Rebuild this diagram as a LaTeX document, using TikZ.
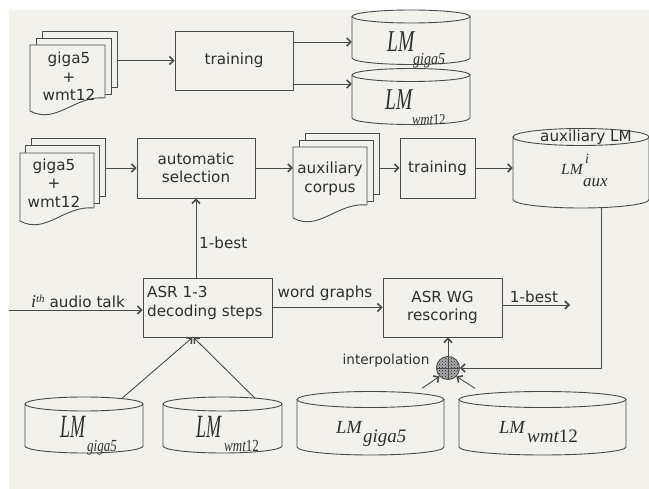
\documentclass[tikz,border=0pt]{standalone}
\usepackage{fontspec}
\usepackage{graphicx}
\setmainfont{DejaVu Sans}
\newfontfamily\tms{Liberation Serif}
\usetikzlibrary{arrows.meta,calc,patterns}
\definecolor{bg}{HTML}{F2F1EC}
\definecolor{lc}{HTML}{4A4A4A}
\definecolor{tc}{HTML}{2E2E2E}
\newcommand\labfont{\fontsize{15.2}{18.5}\selectfont}
\newcommand\smallfont{\fontsize{13.6}{16}\selectfont}
\newcommand\serf[1]{\tms\itshape\fontsize{#1}{#1}\selectfont}
% cylinder: name, cx, top y, bottom-arc centre y, rx, ry
\newcommand\mycyl[6]{%
  \draw[ln] (#2-#5,#3) -- (#2-#5,#4) arc[start angle=180,end angle=360,x radius=#5pt,y radius=#6pt] -- (#2+#5,#3);
  \draw[ln] (#2,#3) ellipse[x radius=#5pt,y radius=#6pt];
  \node[inner sep=0,minimum width={2*#5pt},minimum height={(#4-#3+2*#6)*1pt}] (#1) at (#2,{(#3+#4)/2}) {};
}
% document stack: name, x0, y0, w, h, dx, dy
\newcommand\docstack[7]{%
  \draw[ln,fill=bg] (#2+2*#6,#3-2*#7) rectangle ++(#4,#5+3);
  \node[inner sep=0,minimum width=#4pt,minimum height={(#5+3)*1pt},anchor=north west] (#1b) at (#2+2*#6,#3-2*#7) {};
  \draw[ln,fill=bg] (#2+#6,#3-#7) rectangle ++(#4,#5+3);
  \draw[ln,fill=bg] (#2,#3) -- (#2+#4,#3) -- (#2+#4,#3+#5) .. controls (#2+0.6*#4,#3+#5-3) and (#2+0.35*#4,#3+#5+27) .. (#2,#3+#5+13) -- cycle;
  \node[inner sep=0,minimum width=#4pt,minimum height=#5pt,anchor=north west] (#1f) at (#2,#3) {};
}
\begin{document}
\begin{tikzpicture}[x=1pt,y=-1pt,
  ln/.style={draw=lc,line width=0.9pt},
  arr/.style={ln,-{Straight Barb[length=4pt,width=8pt,line width=1.6pt]}},
  procbox/.style={ln,fill=bg,inner sep=0,font=\labfont,text=tc,align=center},
  lbl/.style={font=\labfont,text=tc,inner sep=0},
  lmtext/.style={text=tc,inner sep=0,anchor=base west}]
\useasboundingbox (0,0) rectangle (649,489);
\fill[white] (0,0) rectangle (649,489);
\fill[bg] (9,10) rectangle (649,489);

% ---- row 1
\docstack{sa}{30}{45}{75}{53}{6}{7}
\node[lbl,align=center] (satxt) at (69,76.5) {giga5\\+\\wmt12};
\node[procbox,minimum width=118pt,minimum height=59pt] (train1) at (234,60.5) {training};
\mycyl{cylA}{411}{16.5}{58}{59}{6.5}
\mycyl{cylB}{411}{75}{118}{59}{6.5}
\node[lmtext] (lmA) at (387,52) {\scalebox{1}[1.55]{\serf{19.5}LM}};
\node[lmtext] (lmAs) at (413,65) {\scalebox{1}[1.2]{\serf{14}giga5}};
\node[lmtext] (lmB) at (385,110) {\scalebox{1}[1.55]{\serf{19.5}LM}};
\node[lmtext] (lmBs) at (412,125) {\scalebox{1}[1.2]{\serf{12.5}wmt\upshape12}};
\coordinate (yA) at (0,42);
\coordinate (yB) at (0,84);
\draw[arr] (sab.east |- train1.west) -- (train1.west);
\draw[arr] (train1.east |- yA) -- (cylA.west |- yA);
\draw[arr] (train1.east |- yB) -- (cylB.west |- yB);

% ---- row 2
\docstack{sb}{20}{153}{74}{55}{5.5}{7.5}
\node[lbl,align=center] (sbtxt) at (54,183) {giga5\\+\\wmt12};
\node[procbox,minimum width=118pt,minimum height=60pt] (autosel) at (196,168) {automatic\\selection};
\docstack{sc}{293}{147}{74}{58}{6}{7}
\node[lbl,align=center] (sctxt) at (330,179) {auxiliary\\corpus};
\node[procbox,minimum width=75pt,minimum height=60pt] (train2) at (437.5,168) {training};
\mycyl{cylAux}{581}{137}{199.5}{68}{8.5}
\node[lbl] (auxlm) at (586,137.5) {auxiliary LM};
\node[lmtext] (lmX) at (561,175) {\serf{15.5}LM};
\node[lmtext] (lmXi) at (585,164) {\serf{14}i};
\node[lmtext] (lmXs) at (583,187) {\serf{17}aux};
\draw[arr] (sbb.east |- autosel.west) -- (autosel.west);
\draw[arr] (autosel.east) -- (autosel.east -| scf.west);
\draw[arr] (scb.east |- train2.west) -- (train2.west);
\draw[arr] (train2.east) -- (train2.east -| cylAux.west);

% ---- row 3
\node[procbox,minimum width=129pt,minimum height=59pt] (asr) at (207.5,307.5) {};
\node[lbl,anchor=west,align=left] (asrtxt) at (147,303) {ASR 1-3\\decoding steps};
\node[procbox,minimum width=119pt,minimum height=59pt] (wg) at (442.5,307.5) {ASR WG\\rescoring};
\coordinate (inp) at (9,310);
\coordinate (outp) at (570,305);
\draw[arr] (inp) -- (inp -| asr.west);
\node[lbl] (audiolbl) at (78,301) {{\serf{18}i}{\serf{11}\raisebox{5pt}{th}} audio talk};
\draw[arr] (asr.north -| autosel.south) -- (autosel.south);
\node[lbl,anchor=west] (best1) at (199,243) {1-best};
\draw[arr] (asr.east) -- (wg.west);
\node[lbl] (wglbl) at (325,293) {word graphs};
\draw[arr] (wg.east |- outp) -- (outp);
\node[lbl] (best2) at (534,297) {1-best};

% interpolation
\node[circle,minimum size=23pt,inner sep=0,draw=lc,line width=0.9pt,fill=gray!65] (ip) at (448,368) {};
\fill[pattern=crosshatch dots,pattern color=gray!20!black] (ip.center) circle[radius=10.5pt];
\draw[lc,line width=0.8pt] (ip.north) -- (ip.south) (ip.west) -- (ip.east);
\node[lbl,font=\smallfont] (iplbl) at (386,361) {interpolation};
\draw[arr] (ip.north) -- (ip.north |- wg.south);
\draw[arr] ($(cylAux.south)+(20,0)$) |- (ip.east);

% bottom cylinders
\mycyl{cylC}{84}{404}{446}{59}{7}
\mycyl{cylD}{222.5}{404}{446}{59.5}{7}
\mycyl{cylE}{370.5}{399.5}{447}{73.5}{8}
\mycyl{cylF}{542.5}{399.5}{447}{83.5}{8}
\node[lmtext] (lmC) at (60,438) {\scalebox{1}[1.8]{\serf{18}LM}};
\node[lmtext] (lmCs) at (87,452) {\scalebox{1}[1.3]{\serf{13}giga5}};
\node[lmtext] (lmD) at (196,438) {\scalebox{1}[1.8]{\serf{18}LM}};
\node[lmtext] (lmDs) at (224,452) {\scalebox{1}[1.3]{\serf{13}wmt\upshape12}};
\node[lmtext] (lmE) at (336,434) {\serf{18.5}LM};
\node[lmtext] (lmEs) at (363,443) {\serf{19}giga5};
\node[lmtext] (lmF) at (499,434) {\serf{18.5}LM};
\node[lmtext] (lmFs) at (527,443) {\serf{19}wmt\upshape12};

\draw[arr] ($(cylC.north)+(38,1.5)$) -- ($(asr.south)+(-15,0)$);
\draw[arr] ($(cylD.north)+(32.5,1.5)$) -- ($(asr.south)+(-14,0)$);
\draw[arr] ($(cylE.north)+(51.5,-3)$) -- (ip.south west);
\draw[arr] ($(cylF.north)+(-67.5,-3)$) -- (ip.south east);
\end{tikzpicture}
\end{document}
